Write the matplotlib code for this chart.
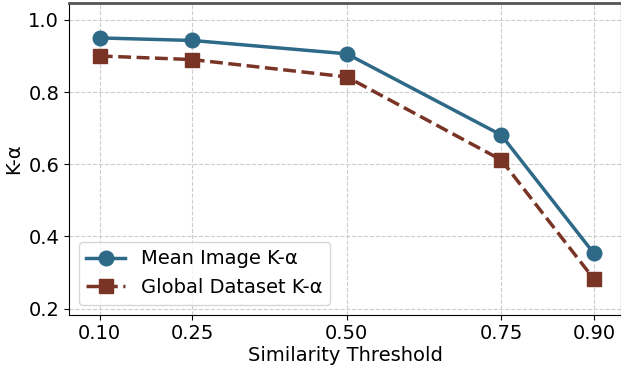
import matplotlib.pyplot as plt

thresholds = [0.10, 0.25, 0.50, 0.75, 0.90]
mean_image = [0.950, 0.943, 0.906, 0.681, 0.353]
global_dataset = [0.900, 0.890, 0.842, 0.612, 0.282]
tick_labels = ['0.10', '0.25', '0.50', '0.75', '0.90']

fig, ax = plt.subplots(figsize=(6.21, 3.68), dpi=100)
fig.subplots_adjust(left=0.111, right=1.0, top=0.992, bottom=0.145)

ax.plot(thresholds, mean_image, '-o', color='#2e6a88', lw=2.5, ms=10.5,
        label='Mean Image K-α')
ax.plot(thresholds, global_dataset, '--s', color='#7a3425', lw=2.5, ms=10,
        label='Global Dataset K-α')

ax.set_xticks(thresholds)
ax.set_xticklabels(tick_labels)
ax.set_xlim(0.05, 0.944)
ax.set_ylim(0.183, 1.047)
ax.set_yticks([0.2, 0.4, 0.6, 0.8, 1.0])
ax.tick_params(labelsize=14)
ax.set_xlabel('Similarity Threshold', fontsize=14, labelpad=2)
ax.set_ylabel('K-α', fontsize=14)
ax.grid(True, linestyle='--', color='#cccccc', lw=0.8)
ax.spines['top'].set_color('#555555')
ax.spines['top'].set_linewidth(2)
ax.legend(loc='lower left', fontsize=14)

fig.savefig('out.png', dpi=100)
